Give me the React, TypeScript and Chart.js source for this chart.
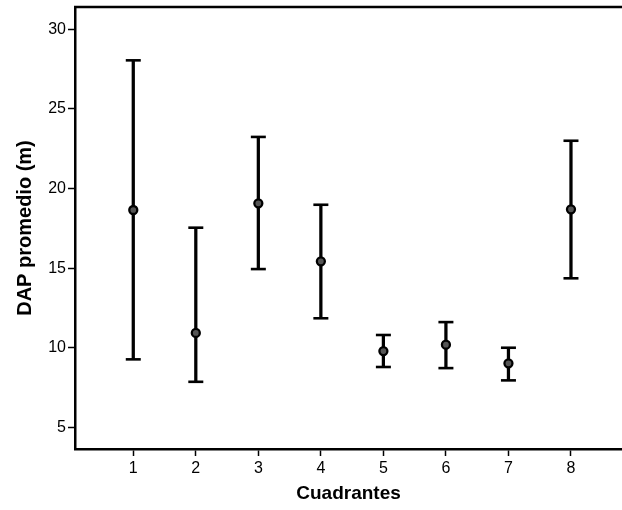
import React, { useEffect, useRef } from "react";
import { Chart, registerables } from "chart.js";
Chart.register(...registerables);

const quadrants = [1, 2, 3, 4, 5, 6, 7, 8];
const means = [18.65, 10.93, 19.07, 15.43, 9.79, 10.19, 9.02, 18.69];
const lows = [9.27, 7.86, 14.94, 11.85, 8.79, 8.72, 7.95, 14.36];
const highs = [28.05, 17.54, 23.24, 18.98, 10.8, 11.61, 10.0, 23.0];
const yTickValues = [5, 10, 15, 20, 25, 30];
const xTitle = "Cuadrantes";
const yTitle = "DAP promedio (m)";

const FONT = "'Liberation Sans', Arial, sans-serif";

const topBorder = {
  id: "topBorder",
  afterDraw(chart: any) {
    const { ctx, chartArea } = chart;
    ctx.save();
    ctx.strokeStyle = "#000";
    ctx.lineWidth = 2.5;
    ctx.beginPath();
    ctx.moveTo(chartArea.left - 1, chartArea.top);
    ctx.lineTo(chartArea.right, chartArea.top);
    ctx.stroke();
    ctx.restore();
  },
};

export default function App() {
  const ref = useRef<HTMLCanvasElement | null>(null);
  useEffect(() => {
    if (!ref.current) return;
    const chart = new Chart(ref.current, {
      data: {
        datasets: [
          {
            type: "bar",
            data: quadrants.map((q, i) => ({ x: q, y: [lows[i], highs[i]] })),
            backgroundColor: "#000",
            borderWidth: 0,
            barThickness: 2.6,
            order: 3,
          } as any,
          {
            type: "scatter",
            data: quadrants.map((q, i) => ({ x: q, y: highs[i] })),
            pointStyle: "line",
            radius: 7.5,
            borderWidth: 2.6,
            borderColor: "#000",
            order: 2,
          } as any,
          {
            type: "scatter",
            data: quadrants.map((q, i) => ({ x: q, y: lows[i] })),
            pointStyle: "line",
            radius: 7.5,
            borderWidth: 2.6,
            borderColor: "#000",
            order: 2,
          } as any,
          {
            type: "scatter",
            data: quadrants.map((q, i) => ({ x: q, y: means[i] })),
            pointStyle: "circle",
            radius: 4,
            borderWidth: 2.3,
            borderColor: "#000",
            backgroundColor: "#555",
            order: 1,
          } as any,
        ],
      },
      options: {
        animation: false,
        responsive: false,
        devicePixelRatio: 1,
        layout: { autoPadding: false, padding: { top: 7, right: 0, left: 0, bottom: 0 } },
        plugins: { legend: { display: false }, tooltip: { enabled: false } },
        scales: {
          x: {
            type: "linear",
            position: "bottom",
            offset: false,
            min: 0.068,
            max: 8.816,
            afterBuildTicks: (s: any) => {
              s.ticks = quadrants.map((v) => ({ value: v }));
            },
            afterFit: (s: any) => {
              s.height = 61;
              s.paddingLeft = 0;
              s.paddingRight = 0;
            },
            grid: {
              offset: false,
              drawOnChartArea: false,
              drawTicks: true,
              tickLength: 7,
              tickWidth: 1.5,
              tickColor: "#000",
            },
            border: { display: true, color: "#000", width: 2.5 },
            ticks: {
              color: "#000",
              padding: 3,
              font: { family: FONT, size: 16 },
              callback: (v: any) => String(v),
            },
            title: {
              display: true,
              text: xTitle,
              color: "#000",
              font: { family: FONT, size: 19, weight: "bold" },
              padding: { top: 0, bottom: 5 },
            },
          },
          y: {
            type: "linear",
            min: 3.64,
            max: 31.4,
            afterBuildTicks: (s: any) => {
              s.ticks = yTickValues.map((v) => ({ value: v }));
            },
            afterFit: (s: any) => {
              s.width = 75;
              s.paddingTop = 0;
              s.paddingBottom = 0;
            },
            grid: {
              drawOnChartArea: false,
              drawTicks: true,
              tickLength: 7,
              tickWidth: 1.5,
              tickColor: "#000",
            },
            border: { display: true, color: "#000", width: 2.5 },
            ticks: {
              color: "#000",
              padding: 2,
              font: { family: FONT, size: 16 },
            },
            title: {
              display: true,
              text: yTitle,
              color: "#000",
              font: { family: FONT, size: 20, weight: "bold" },
              padding: { top: 13, bottom: 0 },
            },
          },
        },
      } as any,
      plugins: [topBorder],
    });
    return () => chart.destroy();
  }, []);
  return (
    <div style={{ position: "fixed", left: 0, top: 0, width: 622, height: 510, background: "#fff" }}>
      <canvas ref={ref} width={622} height={510} />
    </div>
  );
}
